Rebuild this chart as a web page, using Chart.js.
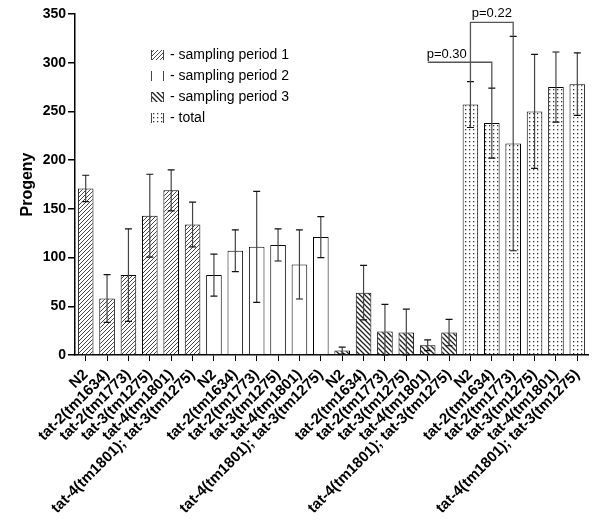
<!DOCTYPE html>
<html>
<head>
<meta charset="utf-8">
<script src="https://cdn.jsdelivr.net/npm/chart.js@4"></script>
<style>
  body { margin: 0; background: #fff; }
  #wrap { width: 600px; height: 531px; }
</style>
</head>
<body>
<div id="wrap"><canvas id="progenyChart"></canvas></div>
<script>
// strains, repeated once per sampling period
const strains = ["N2", "tat-2(tm1634)", "tat-2(tm1773)", "tat-3(tm1275)", "tat-4(tm1801)", "tat-4(tm1801); tat-3(tm1275)"];
const seriesNames = ["sampling period 1", "sampling period 2", "sampling period 3", "total"];

// mean progeny and SD for each period
const period1 = [171, 58, 82, 143, 169, 134];
const period1Sd = [13.5, 24.5, 47.5, 42.5, 21, 23];
const period2 = [82, 107, 111, 113, 93, 121];
const period2Sd = [21.5, 21.5, 57, 16.5, 35.5, 21];
const period3 = [4.5, 64, 24, 23, 10, 23];
const period3Sd = [3.5, 28, 28, 24, 5.5, 13.5];
const total = [257, 238, 217, 250, 275, 278];
const totalSd = [23.5, 36, 110, 58.5, 36, 32];

const yTicks = [0, 50, 100, 150, 200, 250, 300, 350];

// p-value brackets (category index from/to, bracket height)
const pBrackets = [
    { text: "p=0.30", from: 16, to: 19, y: 300.5, dropLeft: false },
    { text: "p=0.22", from: 18, to: 20, y: 341.5, dropLeft: true }
];

Chart.defaults.font.family = "'Liberation Sans', Arial, sans-serif";
Chart.defaults.color = "#000";

// fill patterns
function makePattern(kind) {
    const c = document.createElement("canvas");
    const ctx = c.getContext("2d");
    if (kind === "fwd") {
        c.width = 4; c.height = 4;
        ctx.fillStyle = "#fff"; ctx.fillRect(0, 0, 4, 4);
        ctx.strokeStyle = "#333"; ctx.lineWidth = 0.9;
        ctx.beginPath();
        ctx.moveTo(-1, 5); ctx.lineTo(5, -1);
        ctx.moveTo(-1, 1); ctx.lineTo(1, -1);
        ctx.moveTo(3, 5); ctx.lineTo(5, 3);
        ctx.stroke();
    } else if (kind === "back") {
        c.width = 5; c.height = 5;
        ctx.fillStyle = "#fff"; ctx.fillRect(0, 0, 5, 5);
        ctx.strokeStyle = "#222"; ctx.lineWidth = 1.3;
        ctx.beginPath();
        ctx.moveTo(-1, -1); ctx.lineTo(6, 6);
        ctx.moveTo(4, -1); ctx.lineTo(6, 1);
        ctx.moveTo(-1, 4); ctx.lineTo(1, 6);
        ctx.stroke();
    } else if (kind === "dots") {
        c.width = 4; c.height = 4;
        ctx.fillStyle = "#fff"; ctx.fillRect(0, 0, 4, 4);
        ctx.fillStyle = "#333"; ctx.fillRect(1, 1, 1.3, 1.3);
    } else {
        c.width = 2; c.height = 2;
        ctx.fillStyle = "#fff"; ctx.fillRect(0, 0, 2, 2);
    }
    return ctx.createPattern(c, "repeat");
}

const fills = [makePattern("fwd"), makePattern("none"), makePattern("back"), makePattern("dots")];
const means = [period1, period2, period3, total];
const sds = [period1Sd, period2Sd, period3Sd, totalSd];

const labels = [].concat(strains, strains, strains, strains);

const datasets = means.map((vals, s) => {
    const data = labels.map(() => null);
    vals.forEach((v, i) => { data[s * strains.length + i] = v; });
    return {
        label: seriesNames[s],
        data: data,
        sd: sds[s],
        offsetIndex: s * strains.length,
        backgroundColor: fills[s],
        borderColor: "#000",
        borderWidth: 1,
        borderSkipped: "bottom",
        categoryPercentage: 1,
        barPercentage: 0.73,
        grouped: false
    };
});

const errorBars = {
    id: "errorBars",
    afterDatasetsDraw(chart) {
        const ctx = chart.ctx;
        const y = chart.scales.y;
        ctx.save();
        chart.data.datasets.forEach((ds, di) => {
            const meta = chart.getDatasetMeta(di);
            ds.sd.forEach((sd, i) => {
                const idx = ds.offsetIndex + i;
                const bar = meta.data[idx];
                const m = ds.data[idx];
                const yTop = y.getPixelForValue(m + sd);
                const yBot = y.getPixelForValue(Math.max(0, m - sd));
                ctx.strokeStyle = "#444";
                ctx.lineWidth = 1.2;
                ctx.beginPath();
                ctx.moveTo(bar.x, yTop); ctx.lineTo(bar.x, yBot);
                ctx.stroke();
                ctx.strokeStyle = "#111";
                ctx.beginPath();
                ctx.moveTo(bar.x - 3.5, yTop); ctx.lineTo(bar.x + 3.5, yTop);
                ctx.moveTo(bar.x - 3.5, yBot); ctx.lineTo(bar.x + 3.5, yBot);
                ctx.stroke();
            });
        });
        ctx.restore();
    }
};

// top of the error bar for a category index
function errTop(idx) {
    const s = Math.floor(idx / strains.length);
    const i = idx % strains.length;
    return means[s][i] + sds[s][i];
}

const brackets = {
    id: "brackets",
    afterDatasetsDraw(chart) {
        const ctx = chart.ctx;
        const x = chart.scales.x, y = chart.scales.y;
        ctx.save();
        ctx.strokeStyle = "#555";
        ctx.lineWidth = 1.3;
        ctx.font = "13px 'Liberation Sans', Arial, sans-serif";
        ctx.fillStyle = "#000";
        ctx.textBaseline = "bottom";
        pBrackets.forEach(b => {
            const x1 = x.getPixelForValue(b.from);
            const x2 = x.getPixelForValue(b.to);
            const yy = y.getPixelForValue(b.y);
            ctx.beginPath();
            if (b.dropLeft) {
                ctx.moveTo(x1, y.getPixelForValue(errTop(b.from)));
                ctx.lineTo(x1, yy);
            } else {
                ctx.moveTo(x1, yy);
            }
            ctx.lineTo(x2, yy);
            ctx.lineTo(x2, y.getPixelForValue(errTop(b.to)));
            ctx.stroke();
            if (b.dropLeft) {
                ctx.textAlign = "center";
                ctx.fillText(b.text, (x1 + x2) / 2, yy - 2);
            } else {
                ctx.textAlign = "left";
                ctx.fillText(b.text, x1 - 1, yy - 1);
            }
        });
        ctx.restore();
    }
};

const patternLegend = {
    id: "patternLegend",
    afterDraw(chart) {
        const ctx = chart.ctx;
        const left = chart.chartArea.left + 76;
        const top = chart.chartArea.top + 41;
        ctx.save();
        ctx.font = "14px 'Liberation Sans', Arial, sans-serif";
        ctx.textBaseline = "middle";
        ctx.textAlign = "left";
        chart.data.datasets.forEach((ds, i) => {
            const cy = top + i * 21;
            ctx.fillStyle = ds.backgroundColor;
            ctx.fillRect(left, cy - 5, 12, 10);
            ctx.strokeStyle = "#444";
            ctx.lineWidth = 1;
            ctx.beginPath();
            ctx.moveTo(left + 0.5, cy - 5); ctx.lineTo(left + 0.5, cy + 5);
            ctx.moveTo(left + 12.5, cy - 5); ctx.lineTo(left + 12.5, cy + 5);
            ctx.stroke();
            ctx.fillStyle = "#000";
            ctx.fillText("- " + ds.label, left + 19, cy);
        });
        ctx.restore();
    }
};

new Chart(document.getElementById("progenyChart"), {
    type: "bar",
    data: { labels: labels, datasets: datasets },
    options: {
        responsive: true,
        maintainAspectRatio: false,
        animation: false,
        layout: { padding: { top: 14, right: 12, left: 0, bottom: 0 } },
        plugins: {
            legend: { display: false },
            tooltip: { enabled: false }
        },
        scales: {
            x: {
                offset: true,
                grid: { offset: false, drawOnChartArea: false, color: "#000", tickLength: 6, lineWidth: 1 },
                border: { color: "#000", width: 1.5 },
                ticks: {
                    autoSkip: false,
                    maxRotation: 45,
                    minRotation: 45,
                    padding: 5,
                    color: "#000",
                    font: { size: 15, weight: "bold" }
                },
                afterFit(scale) { scale.height = 176; }
            },
            y: {
                min: 0,
                max: 350,
                afterBuildTicks(scale) { scale.ticks = yTicks.map(v => ({ value: v })); },
                grid: { drawOnChartArea: false, color: "#000", tickLength: 7, lineWidth: 1.5 },
                border: { color: "#000", width: 1.5 },
                ticks: { color: "#000", padding: 2, font: { size: 14, weight: "bold" } },
                title: {
                    display: true,
                    text: "Progeny",
                    color: "#000",
                    font: { size: 16, weight: "bold" },
                    padding: { top: 18, bottom: 0 }
                },
                afterFit(scale) { scale.width = 75; }
            }
        }
    },
    plugins: [errorBars, brackets, patternLegend]
});
</script>
</body>
</html>
